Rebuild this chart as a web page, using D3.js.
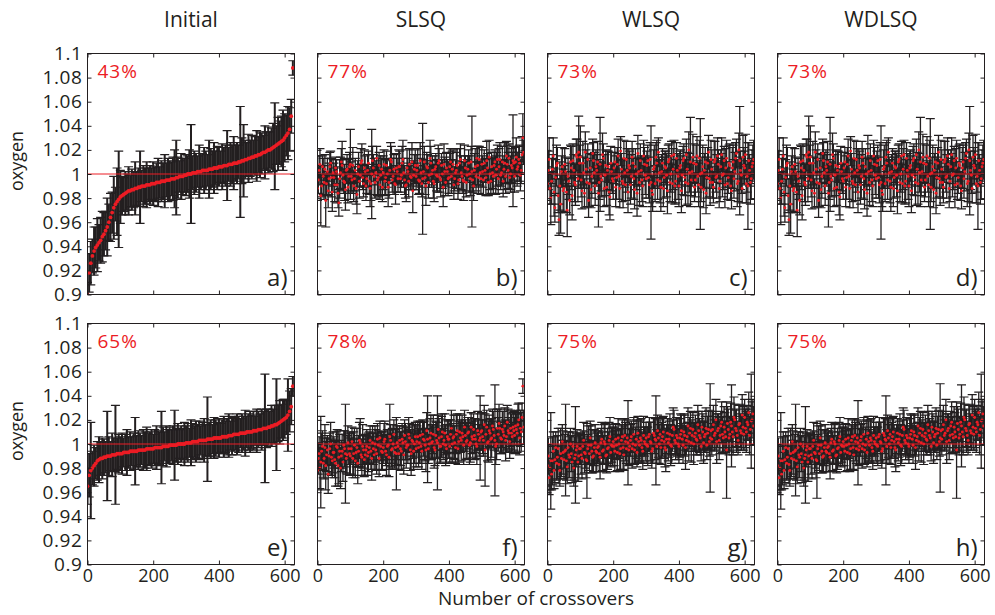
<!DOCTYPE html>
<html>
<head>
<meta charset="utf-8">
<script src="https://cdn.jsdelivr.net/npm/d3@7"></script>
<style>
  body { margin: 0; background: #fff; }
  text { font-family: "Open Sans", sans-serif; fill: #231f20; }
</style>
</head>
<body>
<svg id="chart" width="995" height="615"></svg>
<script>
// values are deviations from 1 in units of 0.001 (oxygen = 1 + dev/1000).
// sorted panels a) and e): one point every 5 crossovers; the others: one every 2.5
var aDev = [
  -100,-82,-74,-68,-64,-61,-59,-57,-55,-52,
  -50,-47,-44,-40,-36,-32,-28,-25,-23,-21,
  -19,-18,-17,-16,-15,-14,-14,-13,-13,-12,
  -12,-11,-11,-10,-10,-10,-9,-9,-9,-8,
  -8,-8,-7,-7,-7,-6,-6,-6,-5,-5,
  -5,-4,-4,-4,-3,-3,-2,-2,-2,-1,
  -1,0,0,0,1,1,1,2,2,2,
  3,3,3,3,4,4,4,5,5,5,
  6,6,6,7,7,7,8,8,8,9,
  9,9,10,10,11,11,12,12,13,13,
  14,14,15,15,16,16,17,18,18,19,
  20,20,21,22,23,24,25,26,27,28,
  30,32,34,37,48,88];
var aErr = [
  10,16,18,14,20,17,22,15,19,21,
  18,16,24,15,20,17,26,14,28,40,
  22,16,14,18,15,20,13,17,15,22,
  14,16,30,13,17,15,19,14,16,13,
  18,14,16,20,13,17,15,22,14,18,
  16,14,18,24,31,17,13,19,15,14,
  17,15,20,41,14,18,16,13,22,15,
  14,19,16,13,24,17,15,21,14,18,
  16,13,19,15,17,29,14,18,16,22,
  15,17,14,46,19,30,16,14,20,15,
  18,14,16,21,15,19,17,14,22,16,
  19,15,17,20,36,16,22,18,21,25,
  20,17,22,18,14,6];

var bDev = [
  -12,-5,3,8,-18,-10,6,-2,-7,4,   -22,-8,2,-14,-4,6,9,-3,-15,1,
  -3,-9,5,2,-9,-16,-24,-4,1,10,   7,-1,-6,-7,-13,3,4,-11,-2,6,
  8,-2,-5,7,-10,-4,3,-12,-17,0,   6,-6,-1,9,11,-3,-8,5,2,-10,
  -4,3,9,-6,-12,-8,0,11,5,-2,     -7,1,13,-5,-3,7,-9,-1,4,-11,
  1,8,-6,-3,7,0,-11,-7,3,12,      10,-5,-2,4,-8,-9,5,2,-4,6,
  6,-4,-1,9,12,1,-5,-10,-9,5,     2,-6,8,-2,-3,10,-14,-1,4,7,
  -2,3,7,-5,-6,11,1,-8,-4,2,      10,-3,-10,6,5,-7,-1,13,9,0,
  3,-6,-8,4,6,-1,-2,9,11,-3,      -5,7,0,-11,8,2,-7,5,2,-4,
  -3,6,10,-2,4,8,-9,-4,1,3,       7,-8,-5,9,12,1,-2,-5,-6,11,
  5,-7,-1,4,9,0,-4,10,2,-5,       -10,3,6,-2,13,7,-3,12,1,-4,
  8,2,-5,9,3,-3,11,5,-7,14,       0,-6,6,1,-2,7,10,-1,4,12,
  -4,6,12,-1,1,10,-6,4,9,-2,      15,8,3,13,-3,0,7,5,11,9,
  -2,10,14,4,6,12,9,-1,3,16,      30,18];
var bErr = [
  10,11,12,13,25,9,9,15,14,12,    22,10,11,14,13,12,10,16,16,11,
  12,14,9,10,15,12,11,16,13,11,   20,13,10,15,17,10,12,13,14,12,
  29,12,11,15,13,10,10,13,16,11,  12,14,9,12,14,10,11,15,13,12,
  12,13,10,11,15,14,37,12,11,15,  13,10,10,13,16,11,12,16,9,12,
  14,12,11,15,12,11,16,13,10,14,  13,10,15,12,9,16,12,11,11,14,
  13,11,10,14,16,12,12,10,14,15,  11,13,13,11,10,16,18,12,12,13,
  11,13,14,12,10,15,12,11,46,10,  13,14,16,12,11,13,10,15,14,11,
  12,14,15,11,11,13,13,15,10,12,  14,10,12,16,17,12,11,13,10,14,
  13,11,11,14,15,12,12,10,10,15,  14,13,11,12,13,14,12,11,16,13,
  10,12,13,11,11,15,14,13,46,10,  12,14,15,12,10,16,13,11,11,13,
  14,13,12,11,10,15,16,12,11,14,  13,10,12,13,15,11,10,16,14,12,
  12,15,14,12,11,13,13,11,17,14,  12,16,15,12,10,15,14,13,38,14,
  13,12,16,14,12,11,15,13,11,15,  20,10];

// c) WLSQ; d) WDLSQ reads the same at this resolution
var cDev = [
  -8,3,12,-12,-20,-6,4,15,-15,-28,    -3,7,9,-18,-38,-10,-25,2,6,-14,
  -12,8,2,-15,-30,-2,-6,-22,10,5,     -18,11,3,-7,-9,16,14,-4,18,9,
  14,-5,-14,9,1,-16,18,4,-7,12,       -22,-8,5,-13,-2,17,11,1,-10,6,
  3,10,-16,-7,8,-2,-5,16,13,-12,      -1,7,-11,3,6,-15,-19,9,2,-4,
  -6,5,10,-11,-3,8,15,-2,-12,19,      4,-6,-8,13,1,-9,12,3,-15,7,
  5,-9,-2,14,9,-4,-13,6,0,-16,        17,2,-7,11,3,-5,-10,15,8,-1,
  -4,7,11,-3,-9,12,-7,-14,-17,4,      6,-8,14,9,-5,18,1,-6,-11,2,
  9,-12,-3,6,5,-1,-14,10,12,-7,       0,15,-8,4,16,-10,-6,13,3,-2,
  -10,5,7,-14,-1,11,13,-3,-7,16,      4,-8,20,1,10,-5,2,14,9,-11,
  -5,8,15,-2,-9,13,0,-11,1,6,         -13,3,10,-16,-3,9,18,-4,-7,12,
  4,-7,-11,10,12,-3,-2,15,8,-12,      -6,6,16,-1,0,11,-9,5,13,-8,
  -3,9,7,-10,-14,5,10,-4,2,13,        17,-8,-6,20,11,3,-1,-12,14,7,
  5,16,-8,-2,-10,11,3,-7,-4,6,        9,12];
var cErr = [
  14,16,18,13,22,19,12,15,20,12,  15,17,13,14,13,20,24,13,16,18,
  19,13,12,17,22,15,15,12,14,18,  20,14,13,16,17,13,15,19,30,15,
  26,14,15,18,13,12,17,16,20,13,  14,19,12,15,18,12,15,17,16,14,
  13,17,28,14,39,12,14,18,12,15,  17,13,15,16,13,19,19,14,16,12,
  15,13,12,16,18,14,14,19,16,12,  13,17,20,15,12,13,15,18,17,14,
  14,16,18,13,12,17,16,15,13,19,  15,12,19,14,12,18,17,13,14,16,
  16,12,13,17,15,14,47,13,14,16,  18,15,12,19,16,12,13,18,20,14,
  12,15,17,13,14,18,19,14,13,16,  15,12,16,17,12,15,18,13,14,19,
  17,14,13,18,16,12,12,15,19,13,  14,17,15,16,37,13,12,19,16,12,
  14,16,16,13,18,15,46,12,13,18,  15,14,12,17,17,13,14,15,19,16,
  16,13,13,17,15,12,18,15,12,16,  17,14,14,18,13,12,19,16,15,13,
  13,15,18,12,15,17,14,16,16,13,  12,19,17,14,45,16,15,12,18,15,
  14,17,16,13,36,15,13,18,17,14,  15,16];

var eDev = [
  -35,-26,-22,-20,-18,-16,-14,-13,-12,-12,
  -11,-11,-10,-10,-10,-9,-9,-9,-8,-8,
  -8,-8,-7,-7,-7,-7,-6,-6,-6,-6,
  -6,-5,-5,-5,-5,-5,-4,-4,-4,-4,
  -4,-3,-3,-3,-3,-3,-2,-2,-2,-2,
  -1,-1,-1,-1,-1,0,0,0,0,0,
  1,1,1,1,2,2,2,2,3,3,
  3,3,3,4,4,4,4,5,5,5,
  5,5,6,6,6,6,7,7,7,8,
  8,8,8,9,9,9,9,10,10,10,
  10,11,11,11,12,12,12,13,13,13,
  14,14,15,15,16,16,17,18,19,20,
  21,22,24,27,31,48];
var eErr = [
  15,18,40,14,17,13,16,19,14,17,
  15,13,37,16,12,18,14,41,13,16,
  14,17,12,15,19,13,16,12,15,28,
  13,16,14,12,17,15,18,13,14,16,
  12,15,18,14,13,30,16,12,17,14,
  15,13,16,29,14,17,12,15,13,18,
  14,16,12,19,15,13,17,14,16,12,
  15,18,13,35,14,16,12,17,15,13,
  16,12,14,17,13,15,18,12,16,14,
  13,17,15,12,16,14,19,13,15,17,
  14,16,12,18,15,13,17,14,45,16,
  15,13,17,14,16,38,15,18,14,17,
  16,14,30,17,15,8];

var fDev = [
  -22,-12,-8,-20,-15,-6,-2,-16,-12,-3,  -18,-9,-5,-25,-10,-4,0,-11,-14,-7,
  -7,-13,-16,-2,-3,-18,-11,-6,-20,-10,  -6,-15,-1,-4,-8,-12,-9,1,-4,-8,
  -10,-4,2,-12,-8,-1,-14,-7,-3,-16,     -6,3,1,-9,-11,-2,-5,-13,-9,-5,
  -2,-10,-7,-3,3,-6,-12,1,-4,-9,        0,-5,-8,4,-1,-12,5,-2,-6,-7,
  -3,2,4,-6,-9,-2,-1,-11,6,3,           -5,-4,0,8,-7,-3,-8,1,-2,-8,
  3,-4,-6,4,1,-9,7,2,-3,-1,             -1,8,5,-5,-8,3,2,-6,0,6,
  -4,2,6,-3,1,7,-2,-6,8,4,              3,-1,-5,11,4,-4,0,5,9,1,
  2,8,-3,-5,7,3,1,12,5,-2,              -2,6,10,0,3,9,-1,-4,6,4,
  4,-2,8,13,0,5,6,1,-3,8,               11,-4,2,10,5,3,9,6,-1,14,
  7,2,3,9,10,-1,1,14,6,4,               12,7,4,0,-2,11,8,3,5,10,
  11,6,3,16,-5,8,14,1,2,11,             9,4,5,15,12,7,3,-2,0,13,
  8,17,13,5,4,12,10,7,15,3,             6,18,11,9,2,13,9,6,14,11,
  7,15,12,9,16,20,5,13,10,22,           48,14];
var fErr = [
  16,13,14,17,38,15,13,12,17,19,  20,14,12,16,15,13,18,15,14,17,
  13,15,19,12,15,17,22,14,17,13,  14,16,12,15,41,12,16,14,13,18,
  15,13,12,16,18,14,14,12,16,17,  13,15,20,13,15,18,12,14,17,12,
  14,16,16,13,12,15,18,14,13,12,  15,17,17,13,12,15,14,12,16,14,
  13,15,15,12,17,14,12,16,27,13,  14,17,16,12,13,15,30,14,15,13,
  12,14,16,13,14,16,13,15,17,12,  15,14,12,17,18,13,14,15,16,12,
  15,13,13,16,17,12,14,15,12,14,  16,13,18,15,36,12,13,16,15,14,
  14,16,17,13,12,15,39,12,16,14,  13,17,15,13,12,16,17,12,14,15,
  16,13,12,15,15,12,18,14,13,16,  14,13,17,15,12,17,15,12,16,14,
  13,15,15,13,12,16,16,12,14,15,  13,14,17,12,15,16,12,13,35,15,
  15,14,13,16,30,12,14,15,17,13,  12,17,16,14,15,12,46,15,13,16,
  14,16,16,13,12,15,17,12,15,17,  13,14,18,13,14,15,16,12,12,16,
  15,13,13,16,17,14,14,15,16,12,  6,14];

// g) WLSQ; h) WDLSQ reads the same at this resolution
var gDev = [
  -18,-10,-28,-20,-14,-25,-14,-6,-22,-13,  -3,-16,-11,-4,-17,-22,-8,-12,2,-7,
  -13,-6,-5,-14,-19,-3,-9,-11,0,-8,        -15,-2,-20,-12,-9,-5,-2,-15,-10,-4,
  -4,-9,-12,-2,3,-7,-8,-13,-14,-4,         -1,-8,5,-1,-6,-11,-10,-3,1,-6,
  -7,-3,-2,-8,-11,1,4,-6,-5,2,             0,-10,-9,-4,-3,3,6,-7,-1,-2,
  2,-2,-6,4,-1,-7,5,0,-8,-4,               3,6,-3,-9,7,2,-4,5,1,-5,
  -2,3,6,-4,0,8,-5,-1,4,-7,                9,2,-1,5,3,-3,-6,7,2,0,
  5,-1,-2,6,8,2,1,-6,-4,9,                 7,4,3,-2,11,5,0,8,-3,3,
  6,10,2,-3,-5,4,9,1,4,8,                  -1,-2,7,14,12,3,1,7,5,0,
  -2,5,8,11,4,-1,10,7,-3,3,                6,15,2,9,13,1,7,12,0,6,
  9,4,3,16,11,7,5,-2,14,10,                1,6,8,13,-1,9,12,2,5,11,
  4,12,16,7,9,20,2,11,13,3,                7,15,18,8,5,14,10,6,-5,17,
  12,5,8,18,15,10,6,22,20,13,              11,7,3,16,17,11,9,24,14,8,
  22,13,10,18,16,26,7,12,19,20,            25,15];
var gErr = [
  17,15,14,18,40,13,20,16,15,19,  13,14,18,17,16,13,21,15,14,18,
  16,14,38,16,14,13,19,17,13,15,  17,12,15,18,40,14,14,16,18,13,
  13,16,17,13,15,17,12,15,31,12,  16,14,14,16,18,13,13,15,15,17,
  16,13,13,15,18,12,14,16,12,14,  17,13,15,17,13,15,16,12,14,16,
  14,16,17,13,12,15,16,12,15,17,  13,14,18,13,14,16,12,15,35,13,
  15,13,13,16,17,14,12,15,16,12,  14,17,13,15,18,13,15,16,12,14,
  13,15,16,12,14,16,17,14,12,13,  15,17,37,14,13,16,16,12,14,15,
  16,13,14,16,18,12,12,15,15,17,  17,14,13,16,16,12,14,15,15,13,
  14,16,17,13,13,15,15,17,18,12,  12,15,16,13,14,16,13,14,17,12,
  15,13,12,16,16,14,14,12,13,15,  17,13,15,17,12,14,16,12,45,16,
  13,15,16,13,14,17,18,14,12,16,  15,12,17,15,13,17,16,13,40,14,
  17,14,14,16,34,13,15,17,13,15,  18,12,12,16,16,14,14,17,17,13,
  15,16,17,14,13,17,16,13,39,15,  12,16];

var xTicks = [0, 200, 400, 600];
var yTicks = [0.9, 0.92, 0.94, 0.96, 0.98, 1, 1.02, 1.04, 1.06, 1.08, 1.1];
var titles = ["Initial", "SLSQ", "WLSQ", "WDLSQ"];
var percents = [["43%", "77%", "73%", "73%"], ["65%", "78%", "75%", "75%"]];
var letters = [["a)", "b)", "c)", "d)"], ["e)", "f)", "g)", "h)"]];
var devs = [[aDev, bDev, cDev, cDev], [eDev, fDev, gDev, gDev]];
var errs = [[aErr, bErr, cErr, cErr], [eErr, fErr, gErr, gErr]];
var steps = [5, 2.5, 2.5, 2.5];

var ink = "#231f20", red = "#ec1c24";
var left0 = 87.5, top0 = 53.5, colPitch = 230, rowPitch = 270;
var pw = 207, ph = 241;

var svg = d3.select("#chart");

var x = d3.scaleLinear().domain([0, 630]).range([0, pw]);
var y = d3.scaleLinear().domain([0.9, 1.1]).range([ph, 0]);

function styleAxis(g, labels, size, spacing) {
    g.select(".domain").remove();
    g.selectAll("line").attr("stroke", ink);
    g.selectAll("text")
        .attr("font-family", "'Open Sans', sans-serif")
        .attr("font-size", size || 18)
        .attr("letter-spacing", spacing || 0)
        .attr("fill", ink)
        .style("display", labels ? null : "none");
}

for (var r = 0; r < 2; r++) {
    for (var c = 0; c < 4; c++) {
        var g = svg.append("g")
            .attr("transform", "translate(" + (left0 + c * colPitch) + "," + (top0 + r * rowPitch) + ")");
        var id = "clip" + r + c;
        g.append("clipPath").attr("id", id)
            .append("rect").attr("width", pw).attr("height", ph);

        var step = steps[c];
        var pts = devs[r][c].map(function (d, i) {
            return { x: i * step, v: 1 + d / 1000, e: errs[r][c][i] / 1000 };
        });

        var plot = g.append("g").attr("clip-path", "url(#" + id + ")");

        // error bars
        var bars = plot.append("g").attr("stroke", ink);
        bars.selectAll(".stem").data(pts).enter().append("line")
            .attr("x1", function (d) { return x(d.x); })
            .attr("x2", function (d) { return x(d.x); })
            .attr("y1", function (d) { return y(d.v - d.e); })
            .attr("y2", function (d) { return y(d.v + d.e); })
            .attr("stroke-width", c == 0 ? 2 : 1.3);
        bars.selectAll(".capTop").data(pts).enter().append("line")
            .attr("x1", function (d) { return x(d.x) - 4.5; })
            .attr("x2", function (d) { return x(d.x) + 4.5; })
            .attr("y1", function (d) { return y(d.v + d.e); })
            .attr("y2", function (d) { return y(d.v + d.e); })
            .attr("stroke-width", 1.2);
        bars.selectAll(".capBot").data(pts).enter().append("line")
            .attr("x1", function (d) { return x(d.x) - 4.5; })
            .attr("x2", function (d) { return x(d.x) + 4.5; })
            .attr("y1", function (d) { return y(d.v - d.e); })
            .attr("y2", function (d) { return y(d.v - d.e); })
            .attr("stroke-width", 1.2);

        // reference line at 1
        plot.append("line")
            .attr("x1", 0).attr("x2", pw)
            .attr("y1", y(1)).attr("y2", y(1))
            .attr("stroke", red).attr("stroke-width", 1);

        // values
        plot.append("g").selectAll("circle").data(pts).enter().append("circle")
            .attr("cx", function (d) { return x(d.x); })
            .attr("cy", function (d) { return y(d.v); })
            .attr("r", c == 0 ? 1.9 : 1.45)
            .attr("fill", red);

        // frame
        g.append("rect").attr("width", pw).attr("height", ph)
            .attr("fill", "none").attr("stroke", ink).attr("stroke-width", 1);

        // inward ticks on all four sides
        g.append("g").call(d3.axisLeft(y).tickValues(yTicks).tickSize(-4).tickPadding(5)
            .tickFormat(function (d) { return String(d); }))
            .call(styleAxis, c == 0, 19, 0.6);
        g.append("g").attr("transform", "translate(" + pw + ",0)")
            .call(d3.axisRight(y).tickValues(yTicks).tickSize(-4))
            .call(styleAxis, false);
        g.append("g")
            .call(d3.axisTop(x).tickValues(xTicks).tickSize(-4))
            .call(styleAxis, false);
        g.append("g").attr("transform", "translate(0," + ph + ")")
            .call(d3.axisBottom(x).tickValues(xTicks).tickSize(-4).tickPadding(5))
            .call(styleAxis, r == 1, 18, 0);

        if (r == 0) {
            g.append("text").attr("x", pw / 2).attr("y", 27 - top0)
                .attr("text-anchor", "middle").attr("font-size", 21)
                .text(titles[c]);
        }
        g.append("text").attr("x", 10).attr("y", 24)
            .attr("font-size", 19).attr("letter-spacing", 1)
            .style("fill", red)
            .text(percents[r][c]);
        g.append("text").attr("x", pw - 7).attr("y", ph - 9)
            .attr("text-anchor", "end").attr("font-size", 24)
            .text(letters[r][c]);
    }
    svg.append("text")
        .attr("transform", "translate(23," + (top0 + r * rowPitch + ph / 2 - 13) + ") rotate(-90)")
        .attr("text-anchor", "middle").attr("font-size", 18)
        .text("oxygen");
}

svg.append("text")
    .attr("x", left0 + (3 * colPitch + pw) / 2).attr("y", 605)
    .attr("text-anchor", "middle").attr("font-size", 19)
    .text("Number of crossovers");
</script>
</body>
</html>
